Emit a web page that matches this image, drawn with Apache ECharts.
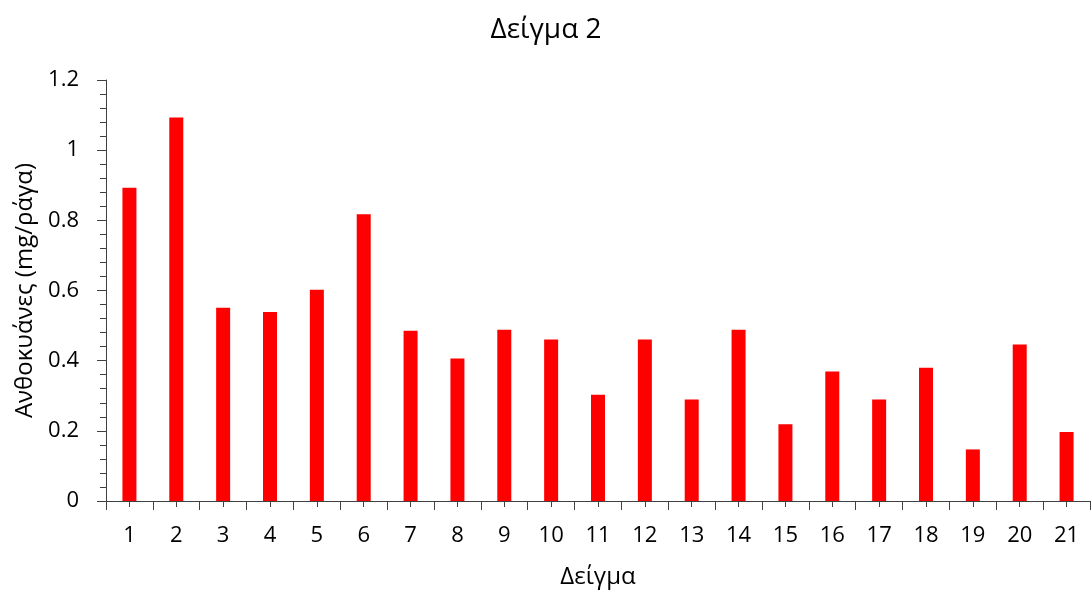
<!DOCTYPE html>
<html><head><meta charset="utf-8">
<script src="https://cdn.jsdelivr.net/npm/echarts@6/dist/echarts.min.js"></script>
<style>html,body{margin:0;padding:0;background:#fff}#c{width:1092px;height:594px}</style>
</head><body><div id="c"></div>
<script>
const titleText = 'Δείγμα 2';
const xName = 'Δείγμα';
const yName = 'Ανθοκυάνες (mg/ράγα)';
const categories = ['1','2','3','4','5','6','7','8','9','10','11','12','13','14','15','16','17','18','19','20','21'];
const values = [0.893, 1.093, 0.551, 0.539, 0.602, 0.817, 0.485, 0.406, 0.488, 0.460, 0.303, 0.460, 0.289, 0.488, 0.219, 0.369, 0.289, 0.380, 0.147, 0.446, 0.197];

const font = '"Open Sans", "Noto Sans", sans-serif';
const axisColor = '#404040';
const chart = echarts.init(document.getElementById('c'), null, {renderer: 'canvas'});
chart.setOption({
  animation: false,
  textStyle: {fontFamily: font},
  title: {text: titleText, left: 'center', top: 11,
    textStyle: {fontFamily: font, fontSize: 28, fontWeight: 'normal', color: '#000'}},
  grid: {left: 106, top: 80, right: 2, bottom: 93, containLabel: false},
  xAxis: [{
    type: 'category', data: categories, position: 'bottom',
    name: xName, nameLocation: 'middle', nameGap: 64,
    nameTextStyle: {fontFamily: font, fontSize: 24, color: '#000'},
    axisLine: {lineStyle: {color: axisColor, width: 1}},
    axisTick: {show: true, alignWithLabel: false, length: 9, lineStyle: {color: axisColor}},
    axisLabel: {fontFamily: font, fontSize: 22, color: '#000', margin: 24, interval: 0},
    splitLine: {show: false}
  }, {
    type: 'category', data: categories, position: 'bottom',
    axisLine: {show: false},
    axisTick: {show: true, alignWithLabel: true, length: 6, lineStyle: {color: axisColor}},
    axisLabel: {show: false},
    splitLine: {show: false}
  }],
  yAxis: {
    type: 'value', min: 0, max: 1.2, interval: 0.2,
    name: yName, nameLocation: 'middle', nameGap: 68,
    nameTextStyle: {fontFamily: font, fontSize: 24, color: '#000'},
    axisLine: {show: true, lineStyle: {color: axisColor, width: 1}},
    axisTick: {show: true, length: 9, lineStyle: {color: axisColor}},
    minorTick: {show: true, splitNumber: 5, length: 6, lineStyle: {color: axisColor}},
    axisLabel: {fontFamily: font, fontSize: 22, color: '#000', margin: 27,
      formatter: v => String(Math.round(v * 10) / 10)},
    splitLine: {show: false}
  },
  series: [{
    type: 'bar', data: values, xAxisIndex: 0, barWidth: 14,
    itemStyle: {color: '#ff0000'}
  }]
});
</script></body></html>
